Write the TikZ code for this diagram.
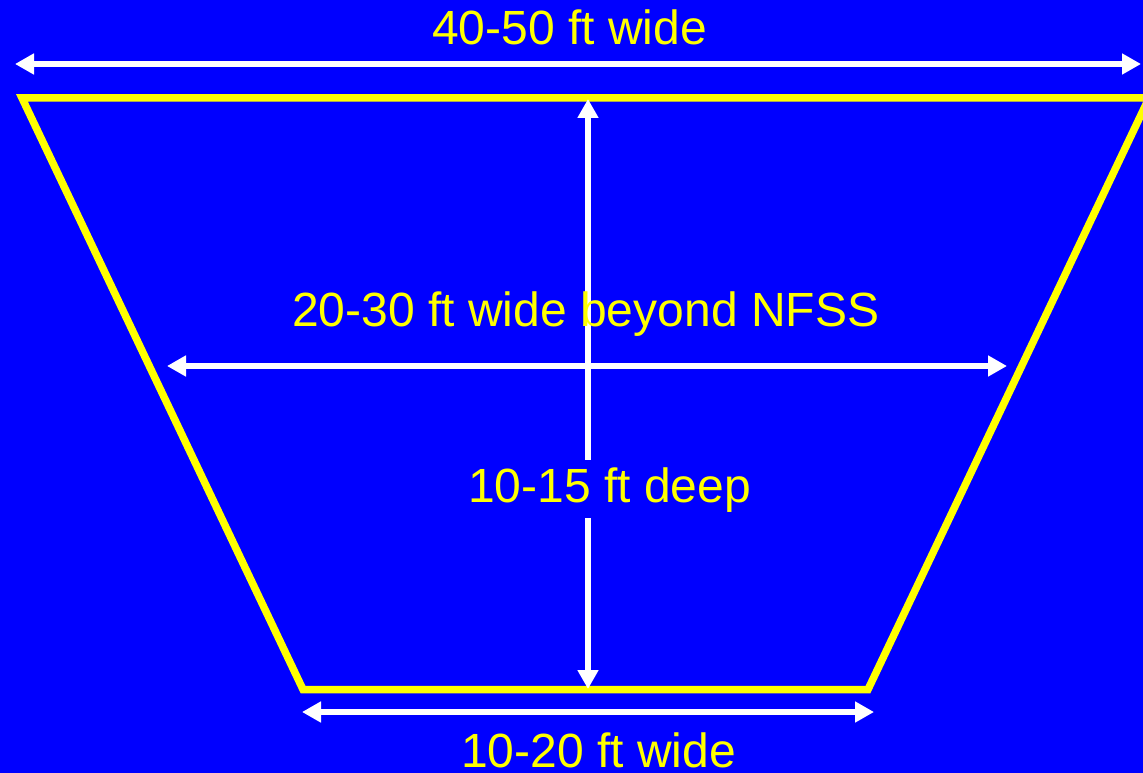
\documentclass[tikz,border=0pt]{standalone}
\usepackage{fontspec}
\setmainfont{Liberation Sans}
\usetikzlibrary{arrows.meta}
\definecolor{bg}{RGB}{0,0,255}
\definecolor{yel}{RGB}{255,255,0}
\begin{document}
\begin{tikzpicture}[x=1pt,y=-1pt,
  dim/.style={draw=white,line width=5.5pt,{Triangle[length=19pt,width=20pt]}-{Triangle[length=19pt,width=20pt]}},
  lbl/.style={text=yel,font=\fontsize{48}{57}\selectfont,anchor=base west,inner xsep=0pt,inner ysep=0pt},
  wall/.style={draw=yel,line width=7.5pt,line join=miter}]
\useasboundingbox (0,0) rectangle (1143,773);
\clip (0,0) rectangle (1143,773);
\fill[bg] (0,0) rectangle (1143,773);
% trench corners
\coordinate (tl) at (22,98);
\coordinate (tr) at (1149,98);
\coordinate (br) at (868,689.5);
\coordinate (bl) at (303,689.5);
\draw[wall] (tl) -- (tr) -- (br) -- (bl) -- cycle;
% dimension ends
\coordinate (topL) at (15,64);
\coordinate (topR) at (1141,64);
\coordinate (midL) at (167,366);
\coordinate (midR) at (1007,366);
\coordinate (vTop) at (588,99);
\coordinate (vBot) at (588,689);
\coordinate (botL) at (302,712);
\coordinate (botR) at (874,712);
\draw[dim] (topL) -- (topR);
\draw[dim] (midL) -- (midR);
\draw[dim] (vTop) -- (vBot);
\draw[dim] (botL) -- (botR);
% labels
\node[lbl] (ttop) at (432,45) {40-50 ft wide};
\node[lbl] (tmid) at (292,326) {20-30 ft wide beyond NFSS};
\node[lbl,fill=bg,text height=34pt,text depth=8pt,inner ysep=8pt] (tdeep) at (468,502) {10-15 ft deep};
\node[lbl] (tbot) at (461,767) {10-20 ft wide};
\end{tikzpicture}
\end{document}
